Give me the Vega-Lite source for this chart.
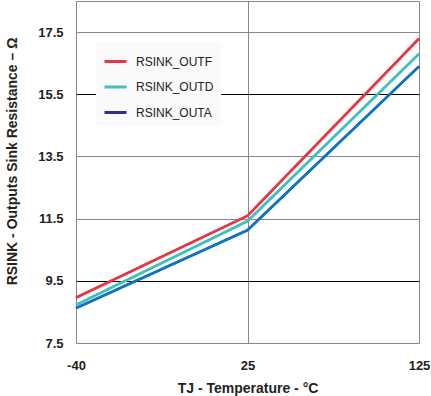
{
  "$schema": "https://vega.github.io/schema/vega-lite/v6.json",
  "width": 343,
  "height": 342,
  "autosize": {"type": "none"},
  "padding": {"left": 76, "top": 1, "right": 12, "bottom": 53},
  "background": "white",
  "config": {
    "view": {"stroke": "#888888", "strokeWidth": 1},
    "font": "Liberation Sans",
    "axis": {
      "labelFont": "Liberation Sans",
      "labelFontWeight": "bold",
      "labelFontSize": 13,
      "labelColor": "#222222",
      "titleFont": "Liberation Sans",
      "titleFontWeight": "bold",
      "titleFontSize": 14,
      "titleColor": "#222222",
      "domain": false,
      "ticks": false
    }
  },
  "data": {
    "values": [
      {"T": -40, "series": "RSINK_OUTF", "R": 8.96},
      {"T": 25, "series": "RSINK_OUTF", "R": 11.59},
      {"T": 125, "series": "RSINK_OUTF", "R": 17.29},
      {"T": -40, "series": "RSINK_OUTD", "R": 8.73},
      {"T": 25, "series": "RSINK_OUTD", "R": 11.42},
      {"T": 125, "series": "RSINK_OUTD", "R": 16.8},
      {"T": -40, "series": "RSINK_OUTA", "R": 8.62},
      {"T": 25, "series": "RSINK_OUTA", "R": 11.13},
      {"T": 125, "series": "RSINK_OUTA", "R": 16.4}
    ]
  },
  "encoding": {
    "x": {
      "field": "T",
      "type": "ordinal",
      "sort": [-40, 25, 125],
      "scale": {"type": "point", "padding": 0},
      "axis": {
        "title": "TJ - Temperature - °C",
        "labelAngle": 0,
        "labelPadding": 16,
        "titlePadding": 9,
        "grid": true,
        "gridColor": "#888888",
        "gridWidth": 1
      }
    },
    "y": {
      "field": "R",
      "type": "quantitative",
      "scale": {"domain": [7.5, 18.5], "nice": false, "zero": false},
      "axis": {
        "title": "RSINK - Outputs Sink Resistance – Ω",
        "values": [7.5, 9.5, 11.5, 13.5, 15.5, 17.5],
        "format": ".1f",
        "labelPadding": 13,
        "titlePadding": 18,
        "titleY": 160,
        "grid": true,
        "gridColor": {"condition": {"test": "datum.value == 9.5 || datum.value == 15.5", "value": "#000000"}, "value": "#888888"},
        "gridWidth": 1
      }
    }
  },
  "layer": [
    {
      "mark": {"type": "line", "strokeWidth": 2.5},
      "encoding": {
        "color": {
          "field": "series",
          "type": "nominal",
          "sort": ["RSINK_OUTF", "RSINK_OUTD", "RSINK_OUTA"],
          "scale": {"domain": ["RSINK_OUTF", "RSINK_OUTD", "RSINK_OUTA"], "range": ["#ec3340", "#3fc1c0", "#2e3192"]},
          "legend": {
            "title": null,
            "orient": "none",
            "legendX": 20,
            "legendY": 41,
            "symbolType": "stroke",
            "symbolSize": 484,
            "symbolStrokeWidth": 3,
            "rowPadding": 6.5,
            "padding": 7,
            "fillColor": "#fafafa",
            "labelFont": "Liberation Sans",
            "labelFontSize": 12,
            "labelColor": "#222222",
            "labelOffset": 8
          }
        }
      }
    },
    {
      "mark": {"type": "line", "strokeWidth": 2.5},
      "encoding": {
        "stroke": {
          "field": "series",
          "type": "nominal",
          "scale": {"domain": ["RSINK_OUTF", "RSINK_OUTD", "RSINK_OUTA"], "range": ["#ec3340", "#3fc1c0", "#0a78c8"]},
          "legend": null
        }
      }
    }
  ]
}
